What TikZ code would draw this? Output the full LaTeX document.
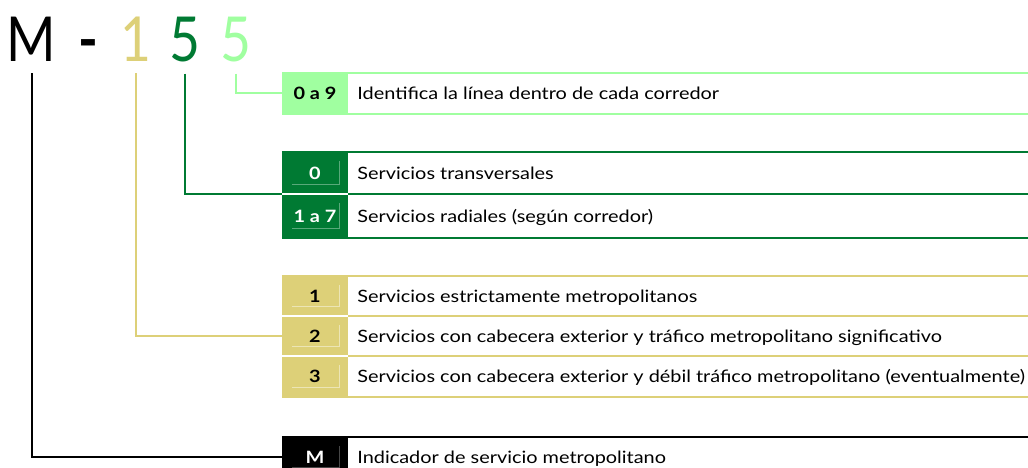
\documentclass[tikz,border=0pt]{standalone}
\usepackage{fontspec}
\setmainfont{Lato}[FakeStretch=1.17]
\newfontfamily\titlefont{Lato}[FakeStretch=0.86]
\usetikzlibrary{positioning}

\definecolor{lgreen}{RGB}{160,255,160}
\definecolor{dgreen}{RGB}{0,122,51}
\definecolor{khaki}{RGB}{221,208,120}

\tikzset{
  codebox/.style={fill=#1, minimum width=66pt, inner sep=0pt, text height=13pt, text depth=1pt,
    font=\fontsize{17}{20}\selectfont\bfseries},
  inset/.style={path picture={\draw[#1, line width=0.7pt]
    ([shift={(10pt,10pt)}]path picture bounding box.south west) --
    ([shift={(-9pt,10pt)}]path picture bounding box.south east) --
    ([shift={(-9pt,-9pt)}]path picture bounding box.north east);}},
  desc/.style={inner sep=0pt, text height=13pt, text depth=1pt,
    font=\fontsize{17}{20}\selectfont, right=9pt of #1},
  title/.style={anchor=base, inner sep=0pt, font=\titlefont\fontsize{62}{70}\selectfont},
  rule/.style={draw=#1, line width=2pt},
  gap/.style={draw=white, line width=1.6pt},
}

\begin{document}
\begin{tikzpicture}[x=1pt, y=-1pt]
  \useasboundingbox (0,0) rectangle (1028,468);
  \clip (0,0) rectangle (1028,468);

  % code M-155
  \node[title]               (tM) at (31.5,62) {M};
  \node[title]               (tD) at (88,62)   {\bfseries -};
  \node[title, text=khaki]   (tI) at (135.5,62) {1};
  \node[title, text=dgreen]  (tC) at (185,62)  {5};
  \node[title, text=lgreen]  (tL) at (236,62)  {5};

  % last digit
  \node[codebox=lgreen, minimum height=41pt] (c09) at (315,93.5) {0 a 9};
  \node[desc=c09] (d09) {Identifica la línea dentro de cada corredor};
  \draw[rule=lgreen] (c09.north west) -- ++(760,0);
  \draw[rule=lgreen] (c09.south west) -- ++(760,0);

  % corridor digit
  \node[codebox=dgreen, text=white, inset=dgreen!65!white, minimum height=42pt] (c0)  at (315,173) {0};
  \node[codebox=dgreen, text=white, inset=dgreen!65!white, minimum height=44pt] (c17) at (315,216) {1 a 7};
  \node[desc=c0]  (d0)  {Servicios transversales};
  \node[desc=c17] (d17) {Servicios radiales (según corredor)};
  \draw[rule=dgreen] (c0.north west) -- ++(760,0);
  \draw[rule=dgreen] (c0.south east) -- ++(700,0);
  \draw[rule=dgreen] (c17.south west) -- ++(760,0);
  \draw[gap] (c0.south west) -- (c0.south east);

  % type digit
  \node[codebox=khaki, inset=khaki!55!white, minimum height=40pt] (c1) at (315,296)   {1};
  \node[codebox=khaki, inset=khaki!55!white, minimum height=40pt] (c2) at (315,336)   {2};
  \node[codebox=khaki, inset=khaki!55!white, minimum height=41pt] (c3) at (315,376.5) {3};
  \node[desc=c1] (d1) {Servicios estrictamente metropolitanos};
  \node[desc=c2] (d2) {Servicios con cabecera exterior y tráfico metropolitano significativo};
  \node[desc=c3] (d3) {Servicios con cabecera exterior y débil tráfico metropolitano (eventualmente)};
  \draw[rule=khaki] (c1.north west) -- ++(760,0);
  \draw[rule=khaki] (c1.south east) -- ++(700,0);
  \draw[rule=khaki] (c2.south east) -- ++(700,0);
  \draw[rule=khaki] (c3.south west) -- ++(760,0);
  \draw[gap] (c1.south west) -- (c1.south east);
  \draw[gap] (c2.south west) -- (c2.south east);

  % prefix
  \node[codebox=black, text=white, inset=black!72!white, minimum height=40pt] (cM) at (315,457) {M};
  \node[desc=cM] (dM) {Indicador de servicio metropolitano};
  \draw[rule=black] (cM.north west) -- ++(760,0);

  % connectors
  \draw[rule=black]  ([yshift=-11pt]tM.south) |- (cM.west);
  \draw[rule=khaki]  ([yshift=-11pt]tI.south) |- (c2.west);
  \draw[rule=dgreen] ([yshift=-11pt]tC.south) |- (c0.south west);
  \draw[rule=lgreen] ([yshift=-11pt]tL.south) |- (c09.west);
\end{tikzpicture}
\end{document}
